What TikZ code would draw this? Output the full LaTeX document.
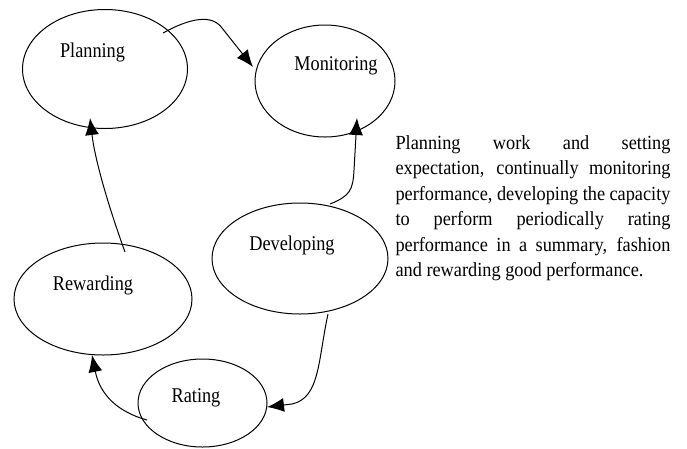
\documentclass[tikz,border=0pt]{standalone}
\usepackage{fontspec}
\newfontfamily\lblfont[FakeStretch=0.87]{Liberation Serif}
\newfontfamily\parfont[FakeStretch=0.915]{Liberation Serif}
\usetikzlibrary{shapes.geometric,arrows.meta}
\begin{document}
\begin{tikzpicture}[x=1pt,y=-1pt,line width=1pt,
	stage/.style={draw,ellipse,inner sep=0pt},
	lbl/.style={anchor=base,inner sep=0pt,font=\lblfont\fontsize{21}{24}\selectfont},
	flow/.style={-{Latex[length=17pt,width=14pt]}}]
	\useasboundingbox (0,0) rectangle (687,448);
	\node[stage,minimum width=165pt,minimum height=119pt] (plan) at (105,69) {};
	\node[stage,minimum width=140pt,minimum height=112pt] (mon) at (325,81) {};
	\node[stage,minimum width=176pt,minimum height=111pt] (dev) at (300,258.5) {};
	\node[stage,minimum width=178pt,minimum height=112pt] (rew) at (103,299) {};
	\node[stage,minimum width=129pt,minimum height=88pt] (rat) at (202.5,403) {};
	\node[lbl] at (92.5,57) {Planning};
	\node[lbl] at (336,70) {Monitoring};
	\node[lbl] at (292,250) {Developing};
	\node[lbl] at (93,290) {Rewarding};
	\node[lbl] at (196,402) {Rating};
	%\draw (plan) -- (mon);
	\draw[flow] ([shift={(58,-36)}]plan.center) .. controls (190,18) and (212,14) .. (222,28) -- ([shift={(-72,-14)}]mon.center);
	\draw[flow] ([shift={(30,-54.5)}]dev.center) .. controls (350,196) and (353,190) .. (354,170) -- ([shift={(32,37)}]mon.center);
	\draw[flow] ([shift={(28,55.5)}]dev.center) .. controls (318,360) and (320,398) .. (292,404) -- ([shift={(64.5,4)}]rat.center);
	\draw[flow] ([shift={(-55.5,17)}]rat.center) .. controls (118,412) and (100,395) .. ([shift={(-11,56)}]rew.center);
	\draw[flow] ([shift={(22,-47)}]rew.center) .. controls (108,205) and (95,160) .. ([shift={(-15,49)}]plan.center);
	\node[anchor=north west,inner sep=0pt,text width=275pt,align=justify,
		font=\parfont\fontsize{20}{25.5}\selectfont] (txt) at (395,135)
		{\hyphenpenalty=10000 Planning work and setting\linebreak expectation, continually monitoring\linebreak performance, developing the capacity\linebreak to perform periodically rating\linebreak performance in a summary, fashion\linebreak and rewarding good performance.};
\end{tikzpicture}
\end{document}
